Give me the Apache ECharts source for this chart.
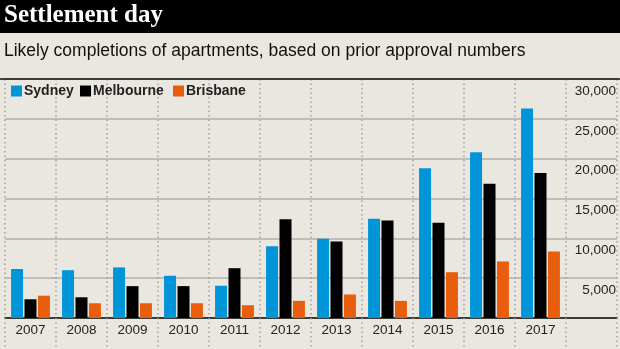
<!DOCTYPE html>
<html>
<head>
<meta charset="utf-8">
<script src="https://cdn.jsdelivr.net/npm/echarts@6/dist/echarts.min.js"></script>
<style>
html,body{margin:0;padding:0;background:#e9e7e0;}
#chart{width:620px;height:349px;}
</style>
</head>
<body>
<div id="chart"></div>
<script>
var years = ['2007','2008','2009','2010','2011','2012','2013','2014','2015','2016','2017'];
var sydney =    [6150, 6000, 6350, 5300, 4050,  9000,  9950, 12450, 18800, 20800, 26300];
var melbourne = [2350, 2600, 4000, 4000, 6250, 12400,  9600, 12250, 11950, 16850, 18200];
var brisbane =  [2800, 1850, 1850, 1850, 1600,  2150,  2950,  2150,  5750,  7100,  8350];
var yTicks = [0, 5000, 10000, 15000, 20000, 25000, 30000];
var titleText = 'Settlement day';
var subtitleText = 'Likely completions of apartments, based on prior approval numbers';

var chart = echarts.init(document.getElementById('chart'));
var cats = years.concat(['']);
var legendFont = {fontFamily:'"Liberation Sans", Arial, sans-serif', fontWeight:'bold', fontSize:14, color:'#222'};
function mkLegend(name, left){
  return {data:[name], left:left, top:84, itemWidth:11, itemHeight:11, icon:'rect', itemGap:0, padding:0,
    textStyle: Object.assign({padding:[0,0,0,-3]}, legendFont), selectedMode:false};
}
var option = {
  backgroundColor:'#e9e7e0',
  animation:false,
  title:[
    {text:titleText, left:4, top:3, padding:0,
     textStyle:{color:'#fff', fontFamily:'"Liberation Serif", serif', fontWeight:'bold', fontSize:25}},
    {text:subtitleText, left:4, top:42, padding:0,
     textStyle:{color:'#111', fontFamily:'"Liberation Sans", Arial, sans-serif', fontWeight:'normal', fontSize:17.5}}
  ],
  graphic:[
    {type:'rect', shape:{x:0,y:0,width:620,height:33}, style:{fill:'#000'}, z:-1},
    {type:'line', shape:{x1:0,y1:79,x2:620,y2:79}, style:{stroke:'#111', lineWidth:1.5}, z:100}
  ],
  legend:[mkLegend('Sydney',11), mkLegend('Melbourne',80), mkLegend('Brisbane',173)],
  grid:{left:5, right:3, top:79, bottom:31, containLabel:false},
  xAxis:{
    type:'category', data:cats, boundaryGap:true,
    axisLine:{show:true, lineStyle:{color:'#111', width:1.5}},
    axisTick:{show:true, interval:0, length:31, lineStyle:{color:'#a3a3a0', type:[1.5,3], width:1.5}},
    axisLabel:{interval:0, margin:5, color:'#222', fontSize:13.5, fontFamily:'"Liberation Sans", Arial, sans-serif'},
    splitLine:{show:true, interval:function(i){return i<=11;}, lineStyle:{color:'#a3a3a0', type:[1.5,3], width:1.5}}
  },
  yAxis:{
    type:'value', position:'right', min:0, max:30000, interval:5000,
    axisLine:{show:false}, axisTick:{show:false},
    axisLabel:{inside:true, margin:1, showMinLabel:false, verticalAlign:'top', padding:[5,0,0,0],
      color:'#222', fontSize:13.5, fontFamily:'"Liberation Sans", Arial, sans-serif',
      formatter:function(v){return v===0?'':v.toLocaleString('en-US');}},
    splitLine:{show:true, lineStyle:{color:'#b0b0aa', width:1.5}}
  },
  series:[
    {name:'Sydney', type:'bar', data:sydney, barWidth:12, barGap:'12%', itemStyle:{color:'#0094d8'}},
    {name:'Melbourne', type:'bar', data:melbourne, barWidth:12, barGap:'12%', itemStyle:{color:'#000'}},
    {name:'Brisbane', type:'bar', data:brisbane, barWidth:12, barGap:'12%', itemStyle:{color:'#e95e0c'}}
  ]
};
chart.setOption(option);
</script>
</body>
</html>
